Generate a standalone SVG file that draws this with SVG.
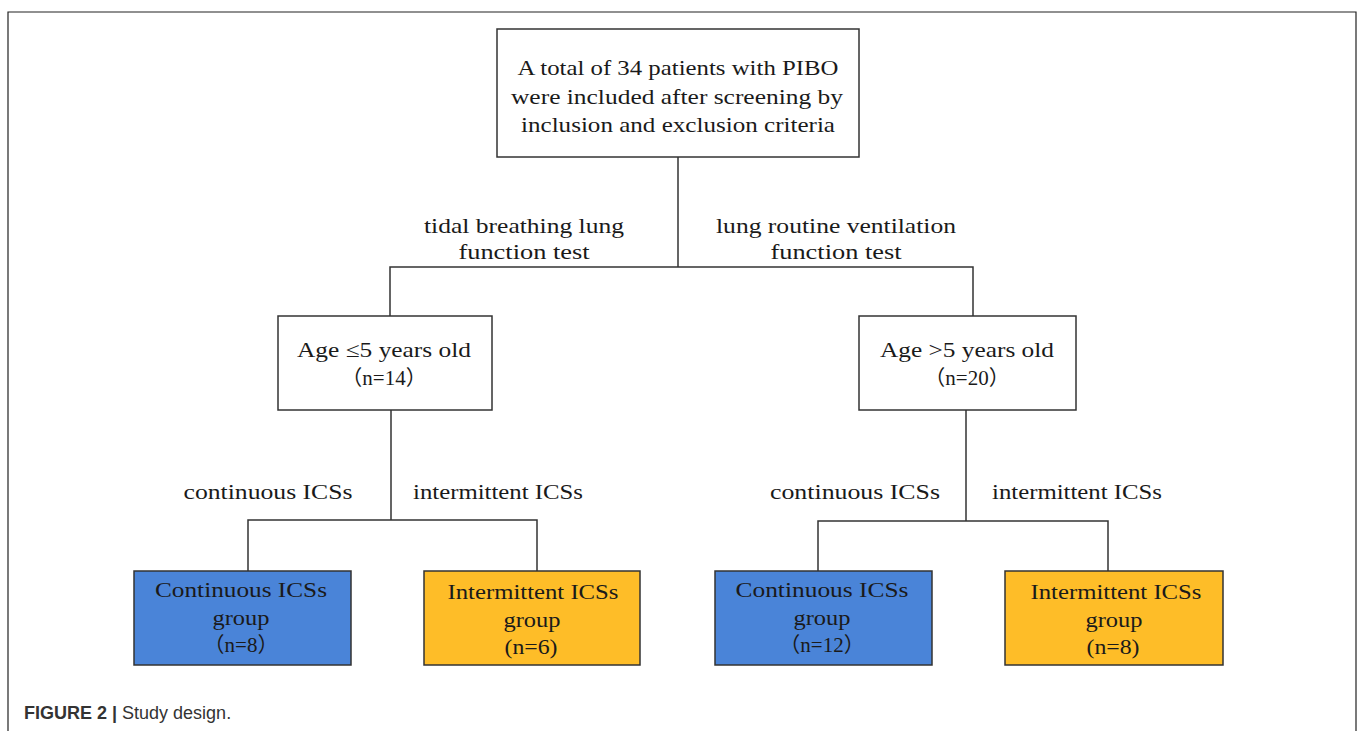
<svg xmlns="http://www.w3.org/2000/svg" width="1358" height="731" viewBox="0 0 1358 731">
<style>
.t{font-family:"Liberation Serif","Noto Sans CJK SC",serif;font-size:21px;fill:#1a1a1a;text-anchor:middle}
.box{stroke:#333;stroke-width:1.5}
.w{fill:#fff}.b{fill:#4a84d8}.o{fill:#febd28}
.ln{stroke:#333;stroke-width:1.5;fill:none}
.cap{font-family:"Liberation Sans",Arial,sans-serif;font-size:18px;fill:#333}
</style>
<rect width="1358" height="731" fill="#fff"/>
<path d="M8,731 V12 H1356 V731" fill="none" stroke="#222" stroke-width="1.2"/>
<g id="connectors">
<path class="ln" d="M678,157 V267 M390,316 V267 H973 V316"/>
<path class="ln" d="M391,410 V520 M248,571 V520 H537 V571"/>
<path class="ln" d="M966,410 V521 M818,571 V521 H1108 V571"/>
<text class="t" x="524" y="233" textLength="200" lengthAdjust="spacingAndGlyphs">tidal breathing lung</text>
<text class="t" x="524" y="259" textLength="131" lengthAdjust="spacingAndGlyphs">function test</text>
<text class="t" x="836" y="233" textLength="240" lengthAdjust="spacingAndGlyphs">lung routine ventilation</text>
<text class="t" x="836" y="259" textLength="131" lengthAdjust="spacingAndGlyphs">function test</text>
<text class="t" x="268" y="499" textLength="169" lengthAdjust="spacingAndGlyphs">continuous ICSs</text>
<text class="t" x="498" y="499" textLength="170" lengthAdjust="spacingAndGlyphs">intermittent ICSs</text>
<text class="t" x="855" y="499" textLength="170" lengthAdjust="spacingAndGlyphs">continuous ICSs</text>
<text class="t" x="1077" y="499" textLength="170" lengthAdjust="spacingAndGlyphs">intermittent ICSs</text>
</g>
<g id="top">
<rect class="box w" x="497" y="29" width="362" height="128"/>
<text class="t" x="678" y="75" textLength="321" lengthAdjust="spacingAndGlyphs">A total of 34 patients with PIBO</text>
<text class="t" x="677" y="104" textLength="332" lengthAdjust="spacingAndGlyphs">were included after screening by</text>
<text class="t" x="678" y="132" textLength="314" lengthAdjust="spacingAndGlyphs">inclusion and exclusion criteria</text>
</g>
<g id="age-le5">
<rect class="box w" x="278" y="316" width="214" height="94"/>
<text class="t" x="384" y="357" textLength="174" lengthAdjust="spacingAndGlyphs">Age ≤5 years old</text>
<text class="t" x="384" y="385">（n=14）</text>
</g>
<g id="age-gt5">
<rect class="box w" x="859" y="316" width="217" height="94"/>
<text class="t" x="967" y="357" textLength="174" lengthAdjust="spacingAndGlyphs">Age &gt;5 years old</text>
<text class="t" x="967" y="385">（n=20）</text>
</g>
<g id="cont1">
<rect class="box b" x="134" y="571" width="217" height="94"/>
<text class="t" x="241" y="597" textLength="172" lengthAdjust="spacingAndGlyphs">Continuous ICSs</text>
<text class="t" x="241" y="625" textLength="57" lengthAdjust="spacingAndGlyphs">group</text>
<text class="t" x="241" y="652">（n=8）</text>
</g>
<g id="int1">
<rect class="box o" x="424" y="571" width="216" height="94"/>
<text class="t" x="533" y="599" textLength="171" lengthAdjust="spacingAndGlyphs">Intermittent ICSs</text>
<text class="t" x="532" y="627" textLength="57" lengthAdjust="spacingAndGlyphs">group</text>
<text class="t" x="531" y="654" textLength="53" lengthAdjust="spacingAndGlyphs">(n=6)</text>
</g>
<g id="cont2">
<rect class="box b" x="715" y="571" width="217" height="94"/>
<text class="t" x="822" y="597" textLength="173" lengthAdjust="spacingAndGlyphs">Continuous ICSs</text>
<text class="t" x="822" y="625" textLength="57" lengthAdjust="spacingAndGlyphs">group</text>
<text class="t" x="822" y="652">（n=12）</text>
</g>
<g id="int2">
<rect class="box o" x="1005" y="571" width="218" height="94"/>
<text class="t" x="1116" y="599" textLength="171" lengthAdjust="spacingAndGlyphs">Intermittent ICSs</text>
<text class="t" x="1114" y="627" textLength="57" lengthAdjust="spacingAndGlyphs">group</text>
<text class="t" x="1113" y="654" textLength="53" lengthAdjust="spacingAndGlyphs">(n=8)</text>
</g>
<text class="cap" x="24" y="719"><tspan font-weight="bold">FIGURE 2 |</tspan> Study design.</text>
</svg>
